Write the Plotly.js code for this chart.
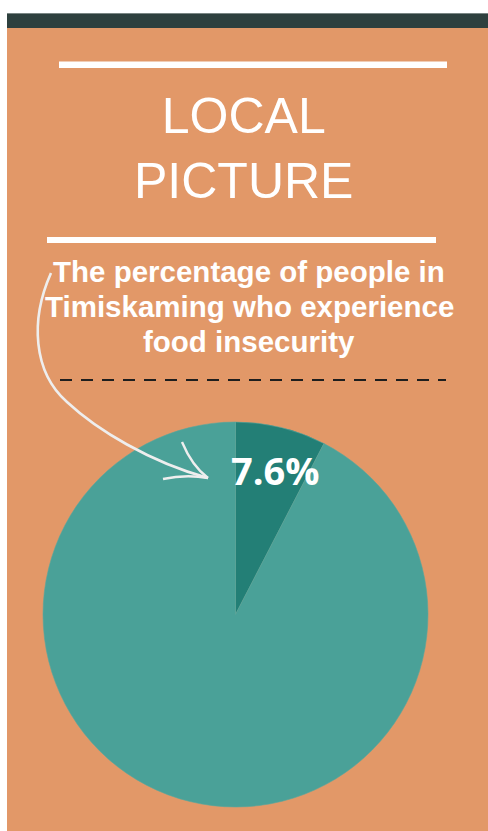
<!DOCTYPE html>
<html>
<head>
<meta charset="utf-8">
<script src="https://cdn.plot.ly/plotly-3.0.1.min.js"></script>
<style>html,body{margin:0;padding:0;background:#fff;}#chart{width:488px;height:831px;}</style>
</head>
<body>
<div id="chart"></div>
<script>
const categories = ["Food insecure", "Food secure"];
const values = [7.6, 92.4];
const sliceLabel = "7.6%";
const titleLines = ["LOCAL", "PICTURE"];
const subtitleLines = ["The percentage of people in", "Timiskaming who experience", "food insecurity"];

const W = 488, H = 831;
const orange = "#e29868";

const pie = {
  type: "pie",
  labels: categories,
  values: values,
  sort: false,
  direction: "clockwise",
  rotation: 0,
  textinfo: "none",
  hoverinfo: "label+percent",
  marker: {colors: ["#237f76", "#4aa198"], line: {color: "#5aa69c", width: 0.6}},
  domain: {x: [43 / W, 428 / W], y: [1 - 807 / H, 1 - 422 / H]},
  showlegend: false
};

const shapes = [
  {type: "rect", x0: 7, x1: 488, y0: 28, y1: 831, fillcolor: orange, line: {width: 0}, layer: "below"},
  {type: "rect", x0: 7, x1: 488, y0: 13, y1: 28, fillcolor: "#2e403e", line: {width: 0}, layer: "below"},
  {type: "line", x0: 7, x1: 488, y0: 13.5, y1: 13.5, line: {color: "#7a8684", width: 1}, layer: "below"},
  {type: "rect", x0: 59, x1: 447, y0: 61.5, y1: 68, fillcolor: "#ffffff", line: {width: 0}, layer: "below"},
  {type: "rect", x0: 47, x1: 436, y0: 237, y1: 243, fillcolor: "#ffffff", line: {width: 0}, layer: "below"},
  {type: "line", x0: 60, x1: 446, y0: 380, y1: 380, line: {color: "#1e1e1e", width: 2, dash: "12px,9px"}, layer: "below"},
  {type: "path", path: "M51,273 C30,320 33,372 67,402 C97,430 150,462 208,478", line: {color: "#eeeeee", width: 2.6}, layer: "above"},
  {type: "path", path: "M182,442 Q192,466 208,478", line: {color: "#eeeeee", width: 2.4}, layer: "above"},
  {type: "path", path: "M163,479 Q186,474 208,478", line: {color: "#eeeeee", width: 2.4}, layer: "above"}
];

const annotations = [];
annotations.push({
  x: 243, y: 148, xref: "x", yref: "y", text: titleLines.join("<br>"), showarrow: false,
  font: {family: "Liberation Sans, Arial, sans-serif", size: 50, color: "#ffffff"},
  xanchor: "center", yanchor: "middle", align: "center"
});
const subY = [271, 306, 341];
subtitleLines.forEach((t, i) => annotations.push({
  x: 249, y: subY[i], xref: "x", yref: "y", text: "<b>" + t + "</b>", showarrow: false,
  font: {family: "Liberation Sans, Arial, sans-serif", size: 29.5, color: "#ffffff"},
  xanchor: "center", yanchor: "middle"
}));
annotations.push({
  x: 275, y: 470, xref: "x", yref: "y", text: "<b>" + sliceLabel + "</b>", showarrow: false,
  font: {family: "Open Sans, sans-serif", size: 38, color: "#ffffff"},
  xanchor: "center", yanchor: "middle"
});

const layout = {
  width: W, height: H,
  margin: {l: 0, r: 0, t: 0, b: 0, pad: 0},
  paper_bgcolor: "#ffffff",
  plot_bgcolor: "rgba(0,0,0,0)",
  xaxis: {range: [0, W], visible: false, fixedrange: true, domain: [0, 1]},
  yaxis: {range: [H, 0], visible: false, fixedrange: true, domain: [0, 1]},
  shapes: shapes,
  annotations: annotations,
  showlegend: false
};

Plotly.newPlot("chart", [pie], layout, {displayModeBar: false, staticPlot: true});
</script>
</body>
</html>
